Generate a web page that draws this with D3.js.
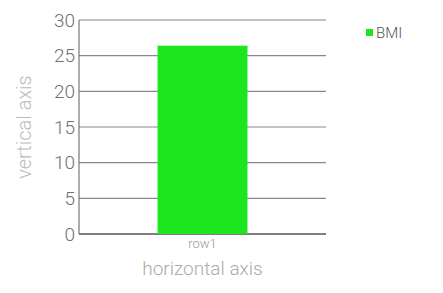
<!DOCTYPE html>
<html>
<head>
<meta charset="utf-8">
<script src="https://cdn.jsdelivr.net/npm/d3@7"></script>
<style>
  body { margin: 0; background: #fff; }
  svg { font-family: Roboto, "Noto Sans", sans-serif; font-weight: 300; }
</style>
</head>
<body>
<svg id="chart" width="443" height="293"></svg>
<script>
const categories = ["row1"];
const bmiValues = [26.4];
const yTicks = [0, 5, 10, 15, 20, 25, 30];
const seriesName = "BMI";

const svg = d3.select("#chart");
const margin = { top: 20, right: 117, bottom: 59, left: 79 };
const width = 443 - margin.left - margin.right;
const height = 293 - margin.top - margin.bottom;

const g = svg.append("g").attr("transform", `translate(${margin.left},${margin.top})`);

const x = d3.scaleBand().domain(categories).range([0, width]).padding(0.466);
const y = d3.scaleLinear().domain([0, 30]).range([height, 0]);

// gridlines
g.selectAll(".grid")
  .data(yTicks)
  .enter()
  .append("line")
  .attr("x1", 0)
  .attr("x2", width)
  .attr("y1", d => y(d))
  .attr("y2", d => y(d))
  .attr("stroke", d => d === 0 ? "#555" : "#888")
  .attr("stroke-width", d => d === 0 ? 1.5 : 1.2);

// left axis line
g.append("line")
  .attr("x1", 0).attr("x2", 0)
  .attr("y1", y(30)).attr("y2", y(0))
  .attr("stroke", "#777").attr("stroke-width", 1.2);

// tick labels
g.selectAll(".ytick")
  .data(yTicks)
  .enter()
  .append("text")
  .attr("x", -4)
  .attr("y", d => y(d))
  .attr("dy", "0.35em")
  .attr("text-anchor", "end")
  .attr("font-size", "19px")
  .attr("fill", "#707070")
  .text(d => d);

// bars
g.selectAll(".bar")
  .data(bmiValues)
  .enter()
  .append("rect")
  .attr("x", (d, i) => x(categories[i]))
  .attr("width", x.bandwidth())
  .attr("y", d => y(d))
  .attr("height", d => y(0) - y(d))
  .attr("fill", "#1ee61e");

// category labels
g.selectAll(".xtick")
  .data(categories)
  .enter()
  .append("text")
  .attr("x", d => x(d) + x.bandwidth() / 2)
  .attr("y", height + 14)
  .attr("text-anchor", "middle")
  .attr("font-size", "13px")
  .attr("fill", "#999")
  .text(d => d);

// axis titles
g.append("text")
  .attr("x", width / 2)
  .attr("y", height + 41)
  .attr("text-anchor", "middle")
  .attr("font-size", "19px")
  .attr("fill", "#aaa")
  .text("horizontal axis");

svg.append("text")
  .attr("transform", `translate(31,${margin.top + height / 2}) rotate(-90)`)
  .attr("text-anchor", "middle")
  .attr("font-size", "20px")
  .attr("fill", "#bbb")
  .text("vertical axis");

// legend
const legend = svg.append("g").attr("transform", "translate(366,29)");
legend.append("rect").attr("width", 7).attr("height", 7).attr("fill", "#1ee61e");
legend.append("text")
  .attr("x", 10).attr("y", 3.5).attr("dy", "0.35em")
  .attr("font-size", "15px").attr("fill", "#555")
  .text(seriesName);
</script>
</body>
</html>
